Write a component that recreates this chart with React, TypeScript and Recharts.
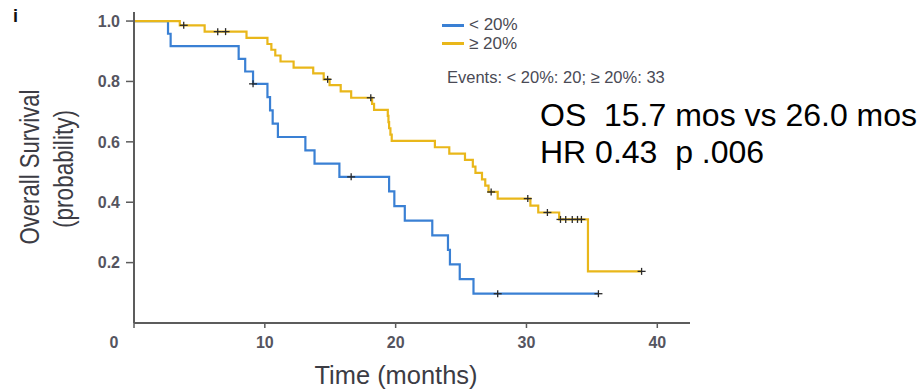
import { ComposedChart, Line, Scatter, XAxis, YAxis, Legend } from "recharts";

// Kaplan-Meier steps (time in months, survival probability)
const lowTimes = [0, 2.6, 2.8, 8.0, 8.5, 9.1, 10.2, 10.4, 10.6, 11.0, 13.1, 13.8, 15.7, 19.5, 19.9, 20.7, 22.8, 24.0, 24.15, 24.9, 25.95, 35.5];
const lowSurv = [1.0, 0.958, 0.917, 0.875, 0.833, 0.792, 0.748, 0.704, 0.66, 0.616, 0.572, 0.528, 0.484, 0.436, 0.387, 0.339, 0.29, 0.242, 0.194, 0.145, 0.097, 0.097];
const lowCensorTimes = [9.1, 16.6, 27.8, 35.5];
const lowCensorSurv = [0.792, 0.484, 0.097, 0.097];

const highTimes = [0, 3.5, 5.4, 8.6, 10.2, 10.5, 10.8, 11.2, 12.2, 13.7, 14.5, 14.95, 15.8, 16.6, 18.2, 18.35, 19.4, 19.45, 19.5, 19.6, 19.7, 23.0, 24.1, 25.3, 25.9, 26.1, 26.6, 26.85, 27.1, 27.8, 30.3, 30.9, 32.5, 34.7, 38.8];
const highSurv = [1.0, 0.986, 0.965, 0.944, 0.924, 0.905, 0.886, 0.866, 0.846, 0.827, 0.807, 0.788, 0.767, 0.746, 0.726, 0.706, 0.686, 0.665, 0.645, 0.624, 0.603, 0.582, 0.561, 0.54, 0.518, 0.497, 0.476, 0.455, 0.434, 0.412, 0.389, 0.366, 0.343, 0.171, 0.171];
const highCensorTimes = [3.8, 6.4, 7.0, 14.8, 18.1, 27.3, 30.1, 31.6, 32.6, 33.0, 33.5, 33.9, 34.2, 38.8];
const highCensorSurv = [0.986, 0.965, 0.965, 0.807, 0.746, 0.434, 0.412, 0.366, 0.343, 0.343, 0.343, 0.343, 0.343, 0.171];

const groupNames = ["< 20%", "≥ 20%"];
const xTicks = [0, 10, 20, 30, 40];
const yTicks = [0.2, 0.4, 0.6, 0.8, 1.0];

const BLUE = "#3a80d4";
const GOLD = "#e9b71a";
const AXIS = "#5c5c5c";
const LABEL = "#55555f";
const FONT = "'Liberation Sans', Arial, sans-serif";

const toRows = (ts: number[], ss: number[]) => ts.map((t, i) => ({ t, s: ss[i] }));

const lowRows = toRows(lowTimes, lowSurv);
const highRows = toRows(highTimes, highSurv);
const lowCensor = toRows(lowCensorTimes, lowCensorSurv);
const highCensor = toRows(highCensorTimes, highCensorSurv);

function CensorMark(props: any) {
  const { cx, cy } = props;
  if (cx == null || cy == null) return null;
  return (
    <g stroke="#2a2a2a" strokeWidth={1.3}>
      <line x1={cx - 4} x2={cx + 4} y1={cy} y2={cy} />
      <line x1={cx} x2={cx} y1={cy - 3.5} y2={cy + 3.5} />
    </g>
  );
}

function XTick(props: any) {
  const { x, y, payload } = props;
  const shift = payload.value === 0 ? -20 : 0;
  return (
    <text x={x + shift} y={y} dy="0.71em" textAnchor="middle" fill={LABEL}
      fontFamily={FONT} fontSize={16} fontWeight="bold">
      {payload.value}
    </text>
  );
}

function YTick(props: any) {
  const { x, y, payload } = props;
  return (
    <text x={x} y={y} dy="0.36em" textAnchor="end" fill={LABEL}
      fontFamily={FONT} fontSize={16} fontWeight="bold">
      {Number(payload.value).toFixed(1)}
    </text>
  );
}

function LegendBox() {
  const colors = [BLUE, GOLD];
  return (
    <div style={{ fontFamily: FONT, fontSize: 17, color: "#4a4a52" }}>
      {groupNames.map((name, i) => (
        <div key={name} style={{ display: "flex", alignItems: "center", height: 18.5 }}>
          <span style={{ display: "inline-block", width: 22, height: 3, background: colors[i], marginRight: 5 }} />
          <span>{name}</span>
        </div>
      ))}
    </div>
  );
}

export default function App() {
  return (
    <div style={{ position: "absolute", left: 0, top: 0, width: 923, height: 390, background: "#fff" }}>
      <ComposedChart width={923} height={390} margin={{ top: 12, right: 233, bottom: 37, left: 74 }}>
        <XAxis
          type="number"
          dataKey="t"
          domain={[0, 42.5]}
          ticks={xTicks}
          interval={0}
          height={30}
          tickSize={5}
          tickMargin={9}
          tick={<XTick />}
          axisLine={{ stroke: AXIS, strokeWidth: 2 }}
          tickLine={{ stroke: AXIS, strokeWidth: 1.5 }}
          label={{
            content: () => (
              <text x={396} y={375} textAnchor="middle" dominantBaseline="central" fill="#3c3c44"
                fontFamily={FONT} fontSize={25} textLength={163} lengthAdjust="spacingAndGlyphs">
                Time (months)
              </text>
            ),
          }}
        />
        <YAxis
          type="number"
          dataKey="s"
          domain={[0, 1.03]}
          ticks={yTicks}
          interval={0}
          width={60}
          tickSize={8}
          tickMargin={6}
          tick={<YTick />}
          axisLine={{ stroke: AXIS, strokeWidth: 2 }}
          tickLine={{ stroke: AXIS, strokeWidth: 1.5 }}
          label={{
            content: () => (
              <g fill="#3c3c44" fontFamily={FONT} fontSize={27}>
                <text x={30} y={167} textAnchor="middle" dominantBaseline="central"
                  transform="rotate(-90 30 167)" textLength={155} lengthAdjust="spacingAndGlyphs">
                  Overall Survival
                </text>
                <text x={64} y={169} textAnchor="middle" dominantBaseline="central"
                  transform="rotate(-90 64 169)" textLength={118} lengthAdjust="spacingAndGlyphs">
                  (probability)
                </text>
              </g>
            ),
          }}
        />
        <Legend
          layout="vertical"
          align="center"
          verticalAlign="middle"
          content={() => <LegendBox />}
          wrapperStyle={{ left: 442, top: 16, width: 120 }}
        />
        <Line data={lowRows} dataKey="s" name={groupNames[0]} type="stepAfter" stroke={BLUE}
          strokeWidth={2.2} dot={false} isAnimationActive={false} />
        <Line data={highRows} dataKey="s" name={groupNames[1]} type="stepAfter" stroke={GOLD}
          strokeWidth={2.2} dot={false} isAnimationActive={false} />
        <Scatter data={lowCensor} dataKey="s" shape={(p: any) => <CensorMark {...p} />}
          legendType="none" isAnimationActive={false} />
        <Scatter data={highCensor} dataKey="s" shape={(p: any) => <CensorMark {...p} />}
          legendType="none" isAnimationActive={false} />
      </ComposedChart>

      <div style={{ position: "absolute", left: 13, top: 6, fontFamily: FONT, fontSize: 18, fontWeight: "bold", color: "#111" }}>
        i
      </div>
      <div style={{ position: "absolute", left: 447, top: 68, fontFamily: FONT, fontSize: 16.5, color: "#4a4a55", whiteSpace: "pre" }}>
        Events: &lt; 20%: 20; ≥ 20%: 33
      </div>
      <div style={{ position: "absolute", left: 540, top: 97, fontFamily: FONT, fontSize: 32, lineHeight: "37px", color: "#000", whiteSpace: "pre" }}>
        {"OS  15.7 mos vs 26.0 mos"}
        <br />
        {"HR 0.43  p .006"}
      </div>
    </div>
  );
}
